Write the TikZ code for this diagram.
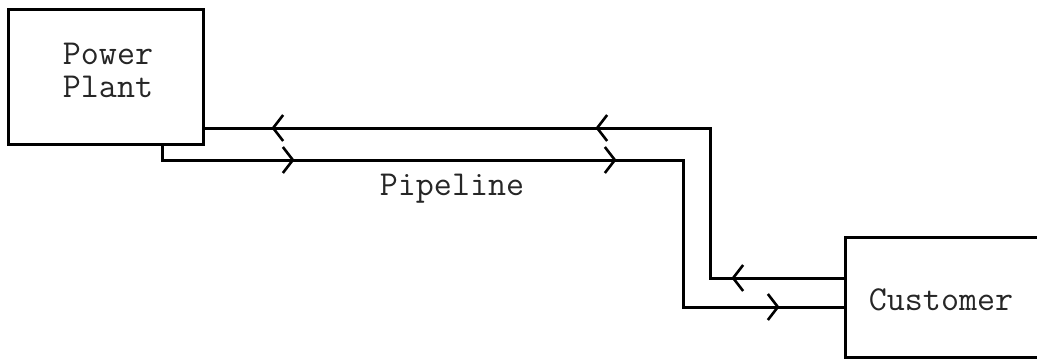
\documentclass[tikz,border=0pt]{standalone}
\usetikzlibrary{arrows.meta,decorations.markings,calc}
\tikzset{chev/.tip={Straight Barb[length=10pt,width=26pt,line width=2.6pt]}}
\begin{document}
\begin{tikzpicture}[x=1pt,y=-1pt,
  block/.style={draw,line width=3pt,inner sep=0pt,rectangle},
  label/.style={font=\ttfamily\fontsize{35}{37}\selectfont,text=black!85,align=center,inner sep=0pt},
  pipe/.style={line width=3pt,line join=miter}]
\useasboundingbox (0,0) rectangle (1037,361);
% equipment
\node[block,minimum width=195pt,minimum height=134pt] (pp) at (105.5,77) {};
\node[block,minimum width=198pt,minimum height=120pt] (cu) at (944,297) {};
\node[label,anchor=base] (pptext) at (108,65) {Power};
\node[label,anchor=base] (pptext2) at (108,98) {Plant};
\node[label,anchor=base] (cutext) at (941,310) {Customer};
\node[label,anchor=base] (pipetext) at (452,195) {Pipeline};
% pipeline bends
\coordinate (r1) at (pp.east |- 0,128);
\coordinate (r2) at (710,128);
\coordinate (r3) at (710,278);
\coordinate (r4) at (cu.west |- 0,278);
\coordinate (s1) at (162,0 |- pp.south);
\coordinate (s2) at (162,160);
\coordinate (s3) at (683,160);
\coordinate (s4) at (683,307);
\coordinate (s5) at (cu.west |- 0,307);
% return line: customer to plant
\draw[pipe,postaction={decorate},decoration={markings,
    mark=at position 112pt with {\arrow{chev}},
    mark=at position 398pt with {\arrow{chev}},
    mark=at position 722pt with {\arrow{chev}}}]
  (r4) -- (r3) -- (r2) -- (r1);
% supply line: plant to customer
\draw[pipe,postaction={decorate},decoration={markings,
    mark=at position 147pt with {\arrow{chev}},
    mark=at position 469pt with {\arrow{chev}},
    mark=at position 779pt with {\arrow{chev}}}]
  (s1) -- (s2) -- (s3) -- (s4) -- (s5);
\end{tikzpicture}
\end{document}
